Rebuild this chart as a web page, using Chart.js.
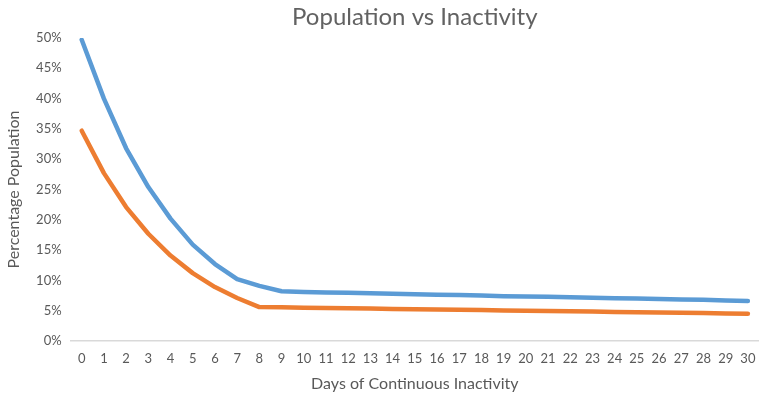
<!DOCTYPE html>
<html>
<head>
<meta charset="utf-8">
<script src="https://cdn.jsdelivr.net/npm/chart.js@4/dist/chart.umd.min.js"></script>
<style>
  html, body { margin: 0; padding: 0; background: #ffffff; }
  #wrap { width: 759px; height: 397px; }
</style>
</head>
<body>
<div id="wrap"><canvas id="c" width="759" height="397"></canvas></div>
<script>
// Days of continuous inactivity (x categories)
const days = Array.from({ length: 31 }, (_, i) => String(i));

// Share of population still inactive after N days, in percent
const seriesA = [49.7, 40.0, 31.8, 25.4, 20.2, 15.9, 12.7, 10.2, 9.1, 8.2,
                 8.1, 8.0, 7.95, 7.9, 7.8, 7.7, 7.65, 7.6, 7.5, 7.4,
                 7.35, 7.3, 7.2, 7.15, 7.05, 7.0, 6.95, 6.85, 6.8, 6.7, 6.6];
const seriesB = [34.7, 27.7, 22.1, 17.7, 14.1, 11.2, 8.9, 7.1, 5.6, 5.55,
                 5.5, 5.45, 5.4, 5.35, 5.3, 5.25, 5.2, 5.15, 5.1, 5.05,
                 5.0, 4.95, 4.9, 4.85, 4.8, 4.75, 4.7, 4.65, 4.6, 4.55, 4.5];

// Y tick values (percent)
const yTicks = [0, 5, 10, 15, 20, 25, 30, 35, 40, 45, 50];

const textColor = '#595959';
const fontFamily = 'Lato, "Open Sans", sans-serif';

// Chart title drawn centred over the plot area
const titlePlugin = {
  id: 'centerTitle',
  afterDraw(chart) {
    const { ctx, chartArea } = chart;
    ctx.save();
    ctx.font = '24px ' + fontFamily;
    ctx.fillStyle = '#626262';
    ctx.textAlign = 'center';
    ctx.textBaseline = 'middle';
    ctx.fillText('Population vs Inactivity', (chartArea.left + chartArea.right) / 2, 17);
    ctx.restore();
  }
};

new Chart(document.getElementById('c'), {
  type: 'line',
  data: {
    labels: days,
    datasets: [
      {
        label: 'Series 1',
        data: seriesA,
        borderColor: '#5b9bd5',
        backgroundColor: '#5b9bd5',
        borderWidth: 4.5,
        pointRadius: 0,
        tension: 0,
        borderCapStyle: 'round',
        borderJoinStyle: 'round'
      },
      {
        label: 'Series 2',
        data: seriesB,
        borderColor: '#ed7d31',
        backgroundColor: '#ed7d31',
        borderWidth: 4.5,
        pointRadius: 0,
        tension: 0,
        borderCapStyle: 'round',
        borderJoinStyle: 'round'
      }
    ]
  },
  options: {
    responsive: false,
    animation: false,
    devicePixelRatio: 1,
    layout: { padding: { top: 38, right: 0, bottom: 0, left: 0 } },
    plugins: {
      legend: { display: false },
      title: { display: false },
      tooltip: { enabled: false }
    },
    scales: {
      x: {
        offset: true,
        grid: { display: false, drawTicks: false },
        border: { display: true, color: '#d9d9d9', width: 1.5 },
        ticks: {
          color: textColor,
          font: { family: fontFamily, size: 13 },
          padding: 10,
          maxRotation: 0,
          autoSkip: false
        },
        title: {
          display: true,
          text: 'Days of Continuous Inactivity',
          color: textColor,
          font: { family: fontFamily, size: 16 },
          padding: { top: 4, bottom: 4 }
        },
        afterFit(scale) {
          scale.height = 56;
          // let the plot run to the canvas edge; the last label may clip
          scale.paddingLeft = 0;
          scale.paddingRight = 0;
        }
      },
      y: {
        min: 0,
        max: 50,
        grid: { display: false, drawTicks: false },
        border: { display: false },
        afterBuildTicks(scale) { scale.ticks = yTicks.map(v => ({ value: v })); },
        ticks: {
          color: textColor,
          font: { family: fontFamily, size: 13 },
          padding: 9,
          callback: v => v + '%'
        },
        title: {
          display: true,
          text: 'Percentage Population',
          color: textColor,
          font: { family: fontFamily, size: 16 },
          padding: { top: 4, bottom: 4 }
        },
        afterFit(scale) { scale.width = 70.6; }
      }
    }
  },
  plugins: [titlePlugin]
});
</script>
</body>
</html>
